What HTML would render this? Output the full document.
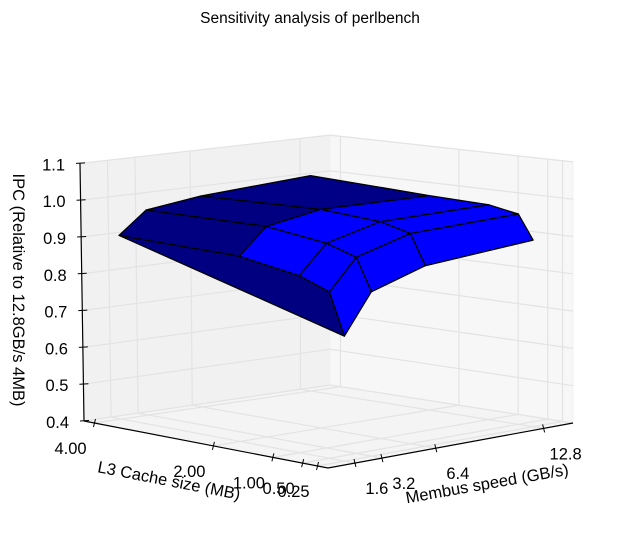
<!DOCTYPE html>
<html><head><meta charset="utf-8"><style>
html,body{margin:0;padding:0;background:#fff;}
svg{display:block;font-family:"Liberation Sans","DejaVu Sans",sans-serif;}
</style></head><body>
<svg id="chart" width="640" height="548" viewBox="0 0 640 548" xmlns="http://www.w3.org/2000/svg">
<rect width="640" height="548" fill="#fff"/>
<text x="310" y="23" font-size="15.5" text-anchor="middle">Sensitivity analysis of perlbench</text>
<g id="panes"></g><g id="grid"></g><g id="surface"></g><g id="axes"></g>
<text transform="translate(13,290) rotate(90)" font-size="16.5" text-anchor="middle">IPC (Relative to 12.8GB/s 4MB)</text>
<text transform="translate(168,486) rotate(11)" font-size="16.5" text-anchor="middle">L3 Cache size (MB)</text>
<text transform="translate(488,489) rotate(-10)" font-size="16.5" text-anchor="middle">Membus speed (GB/s)</text>
</svg>
<script>
const cacheSizes = [4, 2, 1, 0.5, 0.25];
const membusSpeeds = [1.6, 3.2, 6.4, 12.8];
const ipcCache4 = [0.90, 0.96, 0.98, 1.00];
const ipcCache2 = [0.896, 0.965, 0.99, 0.985];
const ipcCache1 = [0.87, 0.945, 0.98, 0.98];
const ipcCache05 = [0.84, 0.92, 0.96, 0.965];
const ipcCache025 = [0.73, 0.835, 0.88, 0.90];
const cacheTickLabels = ["4.00", "2.00", "1.00", "0.50", "0.25"];
const membusTickLabels = ["1.6", "3.2", "6.4", "12.8"];
const zTicks = [0.4, 0.5, 0.6, 0.7, 0.8, 0.9, 1.0, 1.1];

const NS = "http://www.w3.org/2000/svg";
const Z0 = 0.4, Z1 = 1.1;
function aOf(c){ return 0.043 + (4 - c) / 3.75 * 0.914; }
function bOf(m){ return 0.11 + (m - 1.6) / 11.2 * 0.77; }
function proj(a, b, z){
  const fx = 84 + 244*a + 246*b - 1*a*b;
  const fy = 421 + 47*a - 36*b - 9*a*b;
  const s = 368*(1-a)*(1-b) + 380*a*(1-b) + 373*a*b + 357*(1-a)*b;
  return [fx - (z - Z0)/0.7*4*(1-a)*(1-b), fy - (z - Z0)*s];
}
function mk(tag, attrs, parent){
  const e = document.createElementNS(NS, tag);
  for (const k in attrs) e.setAttribute(k, attrs[k]);
  parent.appendChild(e); return e;
}
function pts(list){ return list.map(p => p[0].toFixed(1)+","+p[1].toFixed(1)).join(" "); }

const panes = document.getElementById("panes");
const grid = document.getElementById("grid");
const surf = document.getElementById("surface");
const axes = document.getElementById("axes");

let el;
el = mk("polygon", {points: pts([proj(0,0,Z0),proj(0,1,Z0),proj(0,1,Z1),proj(0,0,Z1)]), fill:"#f1f1f1", stroke:"#eeeeee"}, panes);


el = mk("polygon", {points: pts([proj(0,1,Z0),proj(1,1,Z0),proj(1,1,Z1),proj(0,1,Z1)]), fill:"#f7f7f7", stroke:"#f0f0f0"}, panes);


el = mk("polygon", {points: pts([proj(0,0,Z0),proj(1,0,Z0),proj(1,1,Z0),proj(0,1,Z0)]), fill:"#f4f4f4", stroke:"#eeeeee"}, panes);



function gline(p, q, name){
  const l = mk("line", {x1:p[0],y1:p[1],x2:q[0],y2:q[1],stroke:"#e3e3e3","stroke-width":1.2}, grid);
  
  
}
zTicks.forEach(z => {
  gline(proj(0,0,z), proj(0,1,z), 'z-gridline');
  gline(proj(0,1,z), proj(1,1,z), 'z-gridline');
});
membusSpeeds.forEach(m => {
  const b = bOf(m);
  gline(proj(0,b,Z0), proj(0,b,Z1), 'membus-gridline');
  gline(proj(0,b,Z0), proj(1,b,Z0), 'membus-gridline');
});
cacheSizes.forEach(c => {
  const a = aOf(c);
  gline(proj(a,1,Z0), proj(a,1,Z1), 'cache-gridline');
  gline(proj(a,0,Z0), proj(a,1,Z0), 'cache-gridline');
});

const Z = [ipcCache4, ipcCache2, ipcCache1, ipcCache05, ipcCache025];
const A = cacheSizes.map(aOf), B = membusSpeeds.map(bOf);
const skirt = cacheSizes.map((c,i) => proj(A[i], B[0], Z[i][0]));
el = mk("polygon", {points: pts(skirt), fill:"#000080", stroke:"#000", "stroke-width":1.3, "stroke-linejoin":"round"}, surf);



const faces = [];
for (let i = 0; i < cacheSizes.length-1; i++){
  for (let j = 0; j < membusSpeeds.length-1; j++){
    const da = A[i+1]-A[i], db = B[j+1]-B[j];
    const dza = ((Z[i+1][j]+Z[i+1][j+1]) - (Z[i][j]+Z[i][j+1]))/2/0.7/da;
    const dzb = ((Z[i][j+1]+Z[i+1][j+1]) - (Z[i][j]+Z[i+1][j]))/2/0.7/db;
    const na = -dza, nb = -dzb;
    const s = na / Math.sqrt(1 + na*na + nb*nb);
    let t = Math.max(0, Math.min(1, (s - 0.005)/0.045));
    const blue = Math.round(255*(0.5 + 0.5*t));
    const poly = [proj(A[i],B[j],Z[i][j]), proj(A[i+1],B[j],Z[i+1][j]), proj(A[i+1],B[j+1],Z[i+1][j+1]), proj(A[i],B[j+1],Z[i][j+1])];
    faces.push({poly, depth:(A[i]+A[i+1])/2 - (B[j]+B[j+1])/2, color:"rgb(0,0,"+blue+")", i, j});
  }
}
faces.sort((p,q) => p.depth - q.depth);
faces.forEach(f => {
  const p = mk("polygon", {points: pts(f.poly), fill:f.color, stroke:"#000", "stroke-width":1.3, "stroke-linejoin":"round"}, surf);
  
  
});

function aline(p, q, name, w){
  const l = mk("line", {x1:p[0],y1:p[1],x2:q[0],y2:q[1],stroke:"#000","stroke-width":w||1}, axes);
  
  
}
aline(proj(0,0,Z0), proj(1,0,Z0), 'cache-axis-line', 1.2);
aline(proj(1,0,Z0), proj(1,1,Z0), 'membus-axis-line', 1.2);
aline(proj(0,0,Z0), proj(0,0,Z1), 'z-axis-line', 1.2);

zTicks.forEach(z => {
  const p = proj(0,0,z);
  aline([p[0]-4,p[1]], [p[0]+5,p[1]-0.5], 'z-tick');
  const t = mk("text", {x:(p[0]-15).toFixed(1), y:(p[1]+7).toFixed(1), "font-size":16.5, "text-anchor":"end"}, axes);
  t.textContent = z.toFixed(1);
  
  
});
cacheSizes.forEach((c,i) => {
  const p = proj(aOf(c),0,Z0);
  aline([p[0]+1,p[1]-4], [p[0]-1,p[1]+4], 'cache-tick');
  const t = mk("text", {x:(p[0]-24).toFixed(1), y:(p[1]+31).toFixed(1), "font-size":16.5, "text-anchor":"middle"}, axes);
  t.textContent = cacheTickLabels[i];
  
  
});
membusSpeeds.forEach((m,i) => {
  const p = proj(1,bOf(m),Z0);
  aline([p[0]-1,p[1]-4], [p[0]+1,p[1]+4], 'membus-tick');
  const t = mk("text", {x:(p[0]+22).toFixed(1), y:(p[1]+31).toFixed(1), "font-size":16.5, "text-anchor":"middle"}, axes);
  t.textContent = membusTickLabels[i];
  
  
});
</script>
</body></html>
